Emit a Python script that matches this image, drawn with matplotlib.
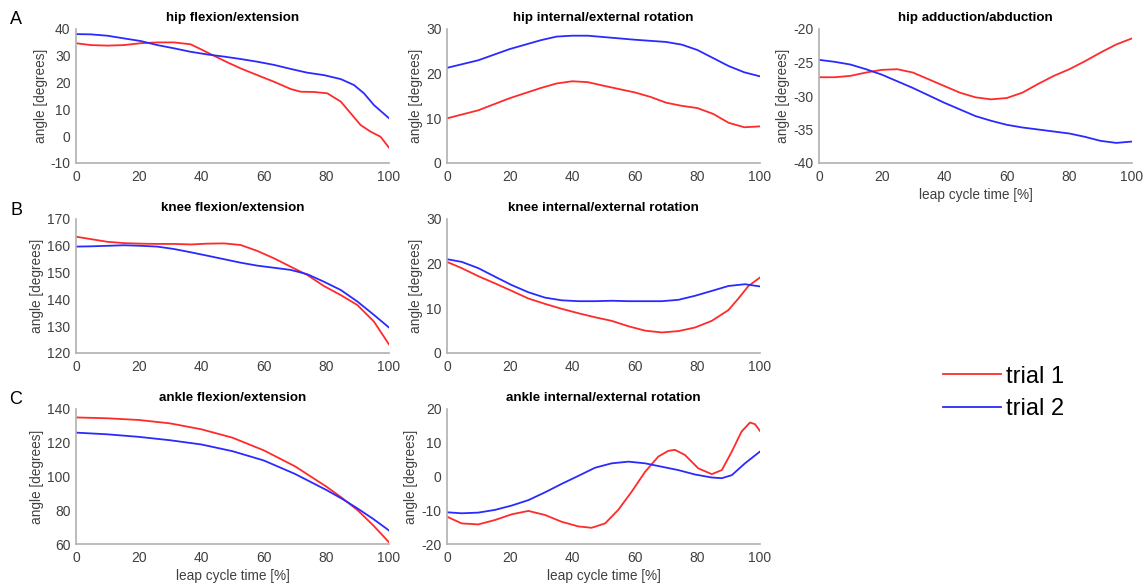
import matplotlib.pyplot as plt
import numpy as np

plt.rcParams['font.family'] = ['Liberation Sans', 'DejaVu Sans']
plt.rcParams['axes.unicode_minus'] = False

# shared time grid (leap cycle %) used for the densely read curves
xs = [0, 4.7, 10, 15.3, 20.7, 26, 31.3, 36.6, 42, 47.3, 52.6, 57.9, 63.3, 68.6, 73.9, 79.2, 84.6, 89.9, 95.2, 100]

# hip flexion/extension
hfe_x1 = [0, 4.7, 10, 15.3, 20.7, 26, 31.3, 36.6, 39.8, 44.1, 48.3, 52.6, 57.9, 63.3, 68.6, 71.8, 76, 80.3, 84.6, 87.8, 90.9, 94.1, 97.3, 100]
hfe_t1 = [34.7, 34.0, 33.8, 34.0, 34.7, 35.0, 35.0, 34.3, 32.5, 30.0, 27.6, 25.3, 22.8, 20.3, 17.6, 16.6, 16.5, 16.0, 12.9, 8.5, 4.2, 1.7, -0.2, -4.3]
hfe_x2 = [0, 4.7, 10, 15.3, 20.7, 26, 31.3, 36.6, 42, 47.3, 52.6, 57.9, 63.3, 68.6, 73.9, 79.2, 84.6, 88.8, 92, 95.2, 100]
hfe_t2 = [38.1, 38.0, 37.5, 36.5, 35.5, 34.0, 32.8, 31.5, 30.5, 29.7, 28.8, 27.8, 26.6, 25.1, 23.7, 22.8, 21.3, 19.1, 16.0, 11.6, 6.7]

# hip internal/external rotation
hie_x1 = [0, 10, 20, 30, 35, 40, 45, 50, 60, 65, 70, 75, 80, 85, 90, 95, 100]
hie_t1 = [10.0, 11.8, 14.5, 16.8, 17.8, 18.3, 18.1, 17.3, 15.8, 14.8, 13.5, 12.8, 12.3, 11.0, 9.0, 8.0, 8.2]
hie_x2 = [0, 10, 20, 30, 35, 40, 45, 50, 60, 70, 75, 80, 85, 90, 95, 100]
hie_t2 = [21.3, 23.0, 25.5, 27.5, 28.3, 28.5, 28.5, 28.2, 27.6, 27.1, 26.5, 25.3, 23.5, 21.7, 20.3, 19.4]

# hip adduction/abduction
haa_x1 = [0, 5, 10, 15, 20, 25, 30, 35, 40, 45, 50, 55, 60, 65, 70, 75, 80, 85, 90, 95, 100]
haa_t1 = [-27.2, -27.2, -27.0, -26.5, -26.1, -26.0, -26.5, -27.5, -28.5, -29.5, -30.2, -30.5, -30.3, -29.5, -28.2, -27.0, -26.0, -24.8, -23.5, -22.3, -21.4]
haa_x2 = [0, 5, 10, 15, 20, 25, 30, 35, 40, 45, 50, 55, 60, 65, 70, 75, 80, 85, 90, 95, 100]
haa_t2 = [-24.6, -24.9, -25.3, -26.0, -26.8, -27.8, -28.8, -29.9, -31.0, -32.0, -33.0, -33.7, -34.3, -34.7, -35.0, -35.3, -35.6, -36.1, -36.7, -37.0, -36.8]

# knee flexion/extension
kfe_t1 = [163.4, 162.5, 161.5, 161.0, 160.8, 160.7, 160.7, 160.5, 160.8, 160.9, 160.3, 158.1, 155.3, 152.2, 149.1, 145.0, 141.6, 137.9, 131.7, 123.2]
kfe_t2 = [159.7, 159.8, 160.0, 160.2, 160.0, 159.7, 158.8, 157.6, 156.3, 155.0, 153.7, 152.6, 151.8, 151.0, 149.4, 146.6, 143.5, 139.2, 134.2, 129.5]

# knee internal/external rotation
kie_x1 = [0, 4.7, 10, 15.3, 20.7, 26, 31.3, 36.6, 42, 47.3, 52.6, 57.9, 63.3, 68.6, 73.9, 79.2, 84.6, 89.9, 93.1, 96.3, 100]
kie_t1 = [20.4, 19.0, 17.2, 15.6, 13.9, 12.2, 11.0, 9.9, 8.9, 8.0, 7.2, 6.0, 5.0, 4.6, 4.9, 5.7, 7.2, 9.6, 12.2, 15.0, 16.9]
kie_t2 = [21.0, 20.4, 19.0, 17.1, 15.2, 13.6, 12.4, 11.8, 11.6, 11.6, 11.7, 11.6, 11.6, 11.6, 11.9, 12.8, 13.9, 15.0, 15.4, 14.9]

# ankle flexion/extension
afe_x1 = [0, 10, 20, 30, 40, 50, 60, 70, 80, 85, 90, 95, 100]
afe_t1 = [135.0, 134.5, 133.5, 131.5, 128.0, 123.0, 115.5, 106.0, 94.0, 87.3, 80.0, 71.0, 61.0]
afe_x2 = [0, 10, 20, 30, 40, 50, 60, 70, 80, 85, 90, 95, 100]
afe_t2 = [126.0, 125.0, 123.5, 121.5, 119.0, 115.0, 109.5, 101.5, 92.0, 86.8, 81.0, 74.8, 68.0]

# ankle internal/external rotation
aie_x1 = [0, 4.7, 10, 15.3, 20.7, 26, 31.3, 36.6, 42, 46.2, 50.5, 54.7, 59, 63.3, 67.5, 70.7, 72.8, 76, 80.3, 84.6, 87.8, 91, 94.1, 96.8, 98.4, 100]
aie_t1 = [-11.9, -13.9, -14.2, -12.9, -11.2, -10.2, -11.4, -13.4, -14.8, -15.2, -13.9, -9.9, -4.5, 1.4, 5.9, 7.6, 7.9, 6.4, 2.4, 0.7, 1.9, 7.4, 13.3, 16.0, 15.5, 13.5]
aie_x2 = [0, 4.7, 10, 15.3, 20.7, 26, 31.3, 36.6, 42, 47.3, 52.6, 58, 63.3, 68.6, 73.9, 79.2, 84.6, 87.8, 91, 95.2, 100]
aie_t2 = [-10.6, -10.9, -10.7, -9.9, -8.6, -7.0, -4.7, -2.2, 0.2, 2.6, 3.9, 4.4, 3.9, 2.9, 1.9, 0.6, -0.3, -0.5, 0.4, 3.9, 7.4]

panels = [
    ('hip flexion/extension', hfe_x1, hfe_t1, hfe_x2, hfe_t2, (-10, 40), 10),
    ('hip internal/external rotation', hie_x1, hie_t1, hie_x2, hie_t2, (0, 30), 10),
    ('hip adduction/abduction', haa_x1, haa_t1, haa_x2, haa_t2, (-40, -20), 5),
    ('knee flexion/extension', xs, kfe_t1, xs, kfe_t2, (120, 170), 10),
    ('knee internal/external rotation', kie_x1, kie_t1, xs, kie_t2, (0, 30), 10),
    ('ankle flexion/extension', afe_x1, afe_t1, afe_x2, afe_t2, (60, 140), 20),
    ('ankle internal/external rotation', aie_x1, aie_t1, aie_x2, aie_t2, (-20, 20), 10),
]

W, H = 1144, 587
cols = [76, 447, 819]
rows = [(29, 163), (219, 353), (409, 544)]
grid = [(0, 0), (0, 1), (0, 2), (1, 0), (1, 1), (2, 0), (2, 1)]
xlabel_on = {2, 5, 6}
grey = '#404040'

fig = plt.figure(figsize=(W / 100, H / 100), dpi=100)

lines = None
for i, (title, x1, t1, x2, t2, ylim, step) in enumerate(panels):
    r, c = grid[i]
    top, bot = rows[r]
    ax = fig.add_axes([cols[c] / W, 1 - bot / H, 313 / W, (bot - top) / H])
    l1, = ax.plot(x1, t1, color='#ff2a2a', lw=1.3, label='trial 1')
    l2, = ax.plot(x2, t2, color='#2a2aff', lw=1.3, label='trial 2')
    lines = [l1, l2]
    ax.set_xlim(0, 100)
    ax.set_ylim(*ylim)
    ax.set_xticks(np.arange(0, 101, 20))
    ax.set_yticks(np.arange(ylim[0], ylim[1] + 1, step))
    for s in ['top', 'right']:
        ax.spines[s].set_visible(False)
    for s in ['left', 'bottom']:
        ax.spines[s].set_color('#b0b0b0')
        ax.spines[s].set_linewidth(1.2)
    ax.tick_params(axis='x', length=0, labelsize=10, labelcolor=grey, pad=5)
    ax.tick_params(axis='y', length=0, labelsize=10, labelcolor=grey, pad=4)
    ax.set_title(title, fontsize=9.6, fontweight='bold', pad=6)
    ax.set_ylabel('angle [degrees]', fontsize=9.8, color=grey, labelpad=2)
    if i in xlabel_on:
        ax.set_xlabel('leap cycle time [%]', fontsize=9.8, color=grey, labelpad=3)

for letter, y in [('A', 20), ('B', 210), ('C', 400)]:
    fig.text(16 / W, 1 - y / H, letter, fontsize=13, ha='center', va='center')

fig.legend(lines, ['trial 1', 'trial 2'], loc='center left',
           bbox_to_anchor=(922 / W, 1 - 393 / H), frameon=False,
           fontsize=17, handlelength=2.45, handletextpad=0.2, labelspacing=0.45)

fig.savefig('out.png', dpi=100)
